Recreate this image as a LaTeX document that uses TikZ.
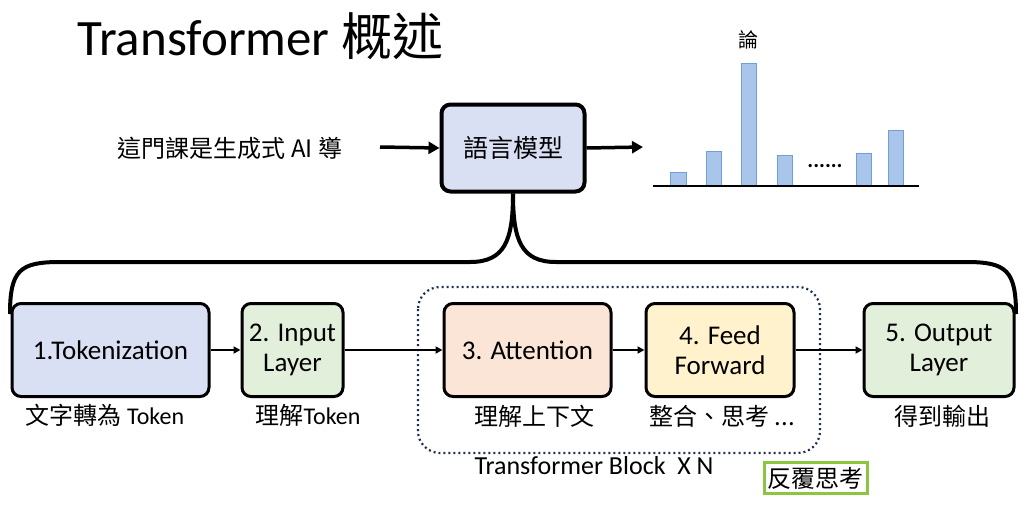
\documentclass[tikz,border=0pt]{standalone}
\usepackage{fontspec}
\setmainfont{Carlito}
\newfontfamily\cjk{Noto Sans CJK TC}
\usetikzlibrary{arrows.meta}
\definecolor{lav}{HTML}{DAE0F3}
\definecolor{grn}{HTML}{E2EFDA}
\definecolor{pch}{HTML}{FBE5D6}
\definecolor{yel}{HTML}{FFF2CC}
\definecolor{barf}{HTML}{A9C6EA}
\definecolor{bard}{HTML}{6F9FD8}
\definecolor{navy}{HTML}{1F2F4F}
\definecolor{lime}{HTML}{8CC63F}
\begin{document}
\begin{tikzpicture}[x=1pt,y=-1pt,
 box/.style={draw=black,line width=3pt,rounded corners=9pt,align=center,font=\fontsize{27}{30}\selectfont,inner sep=0pt},
 arr/.style={-{Triangle[length=7pt,width=7pt]},line width=1.8pt},
 big/.style={-{Triangle[length=11pt,width=12pt]},line width=3.5pt},
 lab/.style={font=\fontsize{24}{26}\selectfont\cjk},
 bar/.style={fill=barf,draw=bard,line width=0.8pt}]
\useasboundingbox (0,0) rectangle (1026,504);
\node[anchor=west,font=\fontsize{51}{53}\selectfont] (title) at (74,36) {Transformer {\cjk 概述}};
\node[lab] (in) at (230,148) {這門課是生成式 AI 導};
\node[box,line width=4pt,fill=lav,minimum width=143pt,minimum height=87pt,font=\fontsize{25}{27}\selectfont\cjk] (lm) at (513,148) {語言模型};
\coordinate (a1) at (380,147);
\draw[big] (a1) -- (lm.west);
\coordinate (a2) at (643,147);
\draw[big] (lm.east) -- (a2);
% chart
\coordinate (b0) at (653,186); \coordinate (b1) at (919,186);
\draw[bar] (670,172) rectangle (686,186);
\draw[bar] (706,151) rectangle (721,186);
\draw[bar] (741,63) rectangle (756,186);
\draw[bar] (777,155) rectangle (792,186);
\draw[bar] (856,153) rectangle (871,186);
\draw[bar] (888,130) rectangle (903,186);
\draw[line width=2.5pt] (b0) -- (b1);
\node[font=\fontsize{22}{22}\selectfont\bfseries] (dots) at (825,166) {......};
\node[font=\fontsize{20}{22}\selectfont\cjk] (lun) at (748,40) {論};
% boxes
\node[box,fill=lav,minimum width=197pt,minimum height=93pt] (t1) at (110.5,350) {1.Tokenization};
\node[box,fill=grn,minimum width=101pt,minimum height=93pt] (t2) at (292.5,350) {2. Input\\Layer};
\draw[navy,line width=2.2pt,dash pattern=on 2pt off 3pt,rounded corners=22pt] (418,287) rectangle (820,453);
\node[box,fill=pch,minimum width=167pt,minimum height=93pt] (t3) at (527.5,350) {3. Attention};
\node[box,fill=yel,minimum width=148pt,minimum height=93pt] (t4) at (720,350) {4. Feed\\Forward};
\node[box,fill=grn,minimum width=150pt,minimum height=93pt] (t5) at (939,350) {5. Output\\Layer};
\draw[arr] (t1) -- (t2);
\draw[arr] (t2) -- (t3);
\draw[arr] (t3) -- (t4);
\draw[arr] (t4) -- (t5);
% brace
\coordinate (bl) at (10,314); \coordinate (br) at (1016,314);
\draw[line width=4pt] (bl) .. controls (10,270) and (20,262) .. (60,262) -- (470,262) .. controls (505,262) and (513,240) .. (lm.south);
\draw[line width=4pt] (br) .. controls (1016,270) and (1006,262) .. (966,262) -- (556,262) .. controls (521,262) and (513,240) .. (lm.south);
% labels
\node[lab] (l1) at (105,415) {文字轉為 {\rmfamily Token}};
\node[lab] (l2) at (308,415) {理解{\rmfamily Token}};
\node[lab] (l3) at (534,416) {理解上下文};
\node[lab] (l4) at (722,416) {整合、思考 ...};
\node[lab] (l5) at (942,416) {得到輸出};
\node[font=\fontsize{26}{28}\selectfont,anchor=west] (tb) at (471,466) {Transformer Block\ \ X N};
\node[draw=lime,line width=3pt,lab,inner sep=1pt,minimum width=103pt,minimum height=31pt] (rf) at (815.5,478) {反覆思考};
\end{tikzpicture}
\end{document}
